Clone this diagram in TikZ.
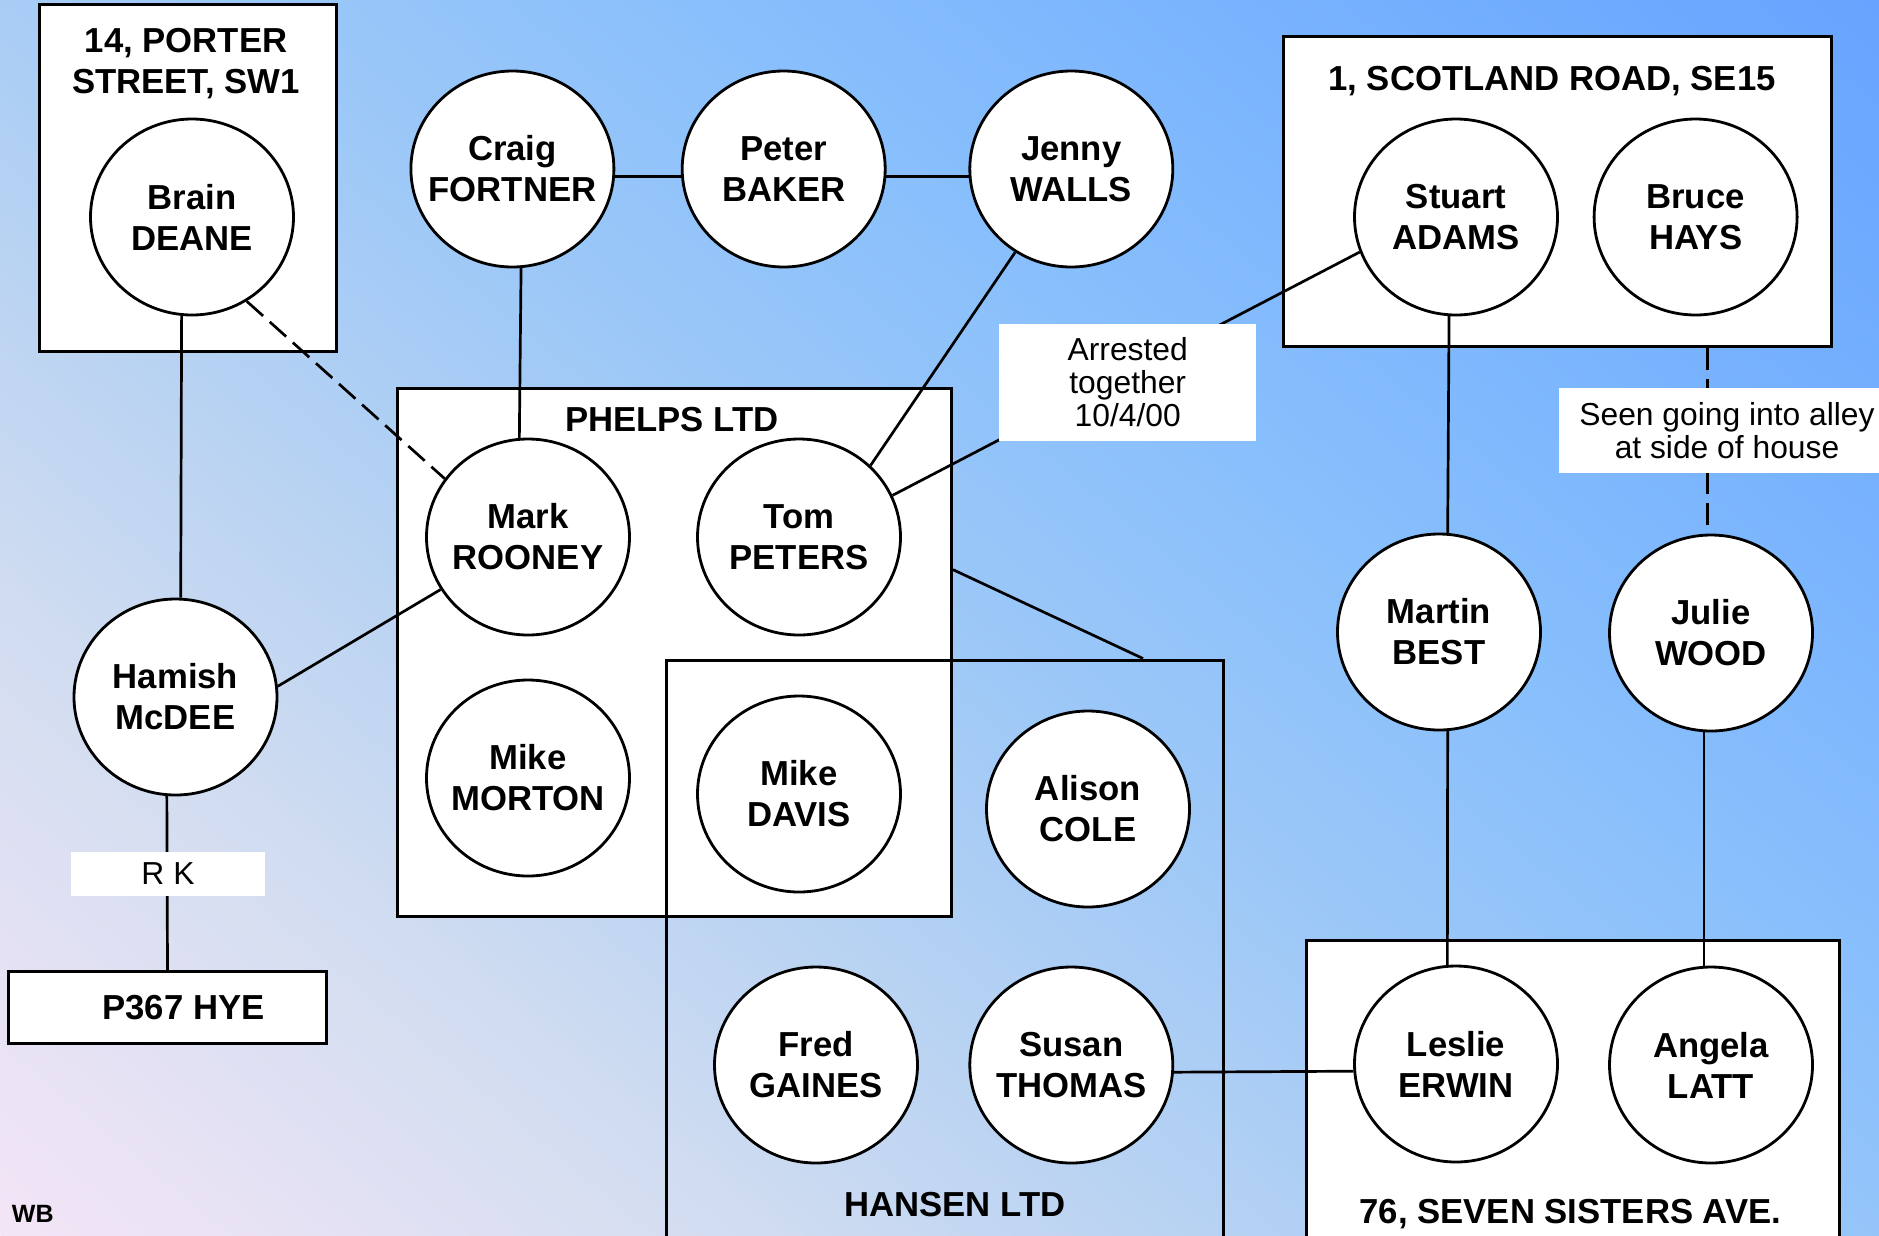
\documentclass[tikz,border=0pt]{standalone}
\usepackage{fontspec}
\setmainfont{Liberation Sans}
\usetikzlibrary{calc,shapes.geometric}

% background wash, pink in the lower left to blue in the upper right
\definecolor{bgA}{HTML}{F3E5F6}
\definecolor{bgB}{HTML}{D5DEF1}
\definecolor{bgC}{HTML}{B9D3F2}
\definecolor{bgD}{HTML}{9DC8F7}
\definecolor{bgE}{HTML}{88BFFC}
\definecolor{bgF}{HTML}{66A4FF}
\pgfdeclarehorizontalshading{skywash}{100bp}{color(0bp)=(bgA); color(25bp)=(bgA); color(35bp)=(bgB); color(42.5bp)=(bgC); color(50bp)=(bgD); color(57.5bp)=(bgE); color(75bp)=(bgF); color(100bp)=(bgF)}

\pgfdeclarelayer{washlayer}
\pgfdeclarelayer{framelayer}
\pgfdeclarelayer{tielayer}
\pgfsetlayers{washlayer,framelayer,tielayer,main}

% two-line name set in a zero-width column so the ellipse keeps its size
\newcommand\pname[2]{\makebox[0pt]{#1}\\\makebox[0pt]{#2}}

\tikzset{
  person/.style={ellipse, draw, line width=2.8pt, fill=white,
    minimum width=203pt, minimum height=196pt, inner sep=0pt,
    text width=0pt, align=center,
    font=\fontsize{34.7}{41}\selectfont\bfseries},
  framebox/.style={draw, line width=3pt, fill=white, inner sep=0pt},
  openbox/.style={draw, line width=3pt, inner sep=0pt},
  heading/.style={inner sep=0pt, font=\fontsize{34.7}{41}\selectfont\bfseries},
  notebox/.style={fill=white, inner sep=0pt, align=center,
    font=\fontsize{31.8}{33}\selectfont},
  tie/.style={line width=2.7pt},
  dashtie/.style={tie, dash pattern=on 22pt off 9pt},
}

\begin{document}
\begin{tikzpicture}[x=1pt,y=-1pt]
\useasboundingbox (0,0) rectangle (1879,1235);

% background
\begin{pgfonlayer}{washlayer}
  \begin{scope}
    \clip (0,0) rectangle (1879,1235);
    \shade[shading=skywash, transform canvas={rotate around={50:(939.5,617.5)}}]
      (-137.5,-502.5) rectangle (2016.5,1737.5);
  \end{scope}
\end{pgfonlayer}

% houses, companies and the car
\begin{pgfonlayer}{framelayer}
  \node[framebox, minimum width=297pt, minimum height=347pt] (porter) at (187.5,177.5) {};
  \node[framebox, minimum width=548pt, minimum height=310pt] (scotland) at (1557,191) {};
  \node[framebox, minimum width=554pt, minimum height=528pt] (phelps) at (674.5,652.5) {};
  \node[openbox, minimum width=557.3pt, minimum height=600pt] (hansen) at (944.65,960) {};
  \node[framebox, minimum width=532.4pt, minimum height=319.3pt] (sisters) at (1572.8,1100.35) {};
  \node[framebox, minimum width=318.4pt, minimum height=71.6pt,
        font=\fontsize{34.7}{41}\selectfont\bfseries] (plate) at (167.5,1007.5) {\hspace*{32pt}P367 HYE};

  \node[heading, align=center] (portername) at (186,63.5) {14, PORTER\\STREET, SW1};
  \node[heading, anchor=base] (scotlandname) at (1552,90.5) {1, SCOTLAND ROAD, SE15};
  \node[heading, anchor=base] (phelpsname) at (671.8,431.8) {PHELPS LTD};
  \node[heading, anchor=base] (hansenname) at (955,1216) {HANSEN LTD};
  \node[heading, anchor=base] (sistersname) at (1570.5,1223.5) {76, SEVEN SISTERS AVE.};
\end{pgfonlayer}

% people
\node[person] (brain)  at (192,217)     {\pname{Brain}{DEANE}};
\node[person] (craig)  at (512.4,169)   {\pname{Craig}{FORTNER}};
\node[person] (peter)  at (783.7,169)   {\pname{Peter}{BAKER}};
\node[person] (jenny)  at (1071.3,169)  {\pname{Jenny}{WALLS}};
\node[person] (stuart) at (1456,217)    {\pname{Stuart}{ADAMS}};
\node[person] (bruce)  at (1695.6,217)  {\pname{Bruce}{HAYS}};
\node[person] (mark)   at (528,537)     {\pname{Mark}{ROONEY}};
\node[person] (tom)    at (799,537)     {\pname{Tom}{PETERS}};
\node[person] (morton) at (528,778)     {\pname{Mike}{MORTON}};
\node[person] (davis)  at (799,794)     {\pname{Mike}{DAVIS}};
\node[person] (alison) at (1088,809)    {\pname{Alison}{COLE}};
\node[person] (hamish) at (175.5,697)   {\pname{Hamish}{McDEE}};
\node[person] (martin) at (1439,632)    {\pname{Martin}{BEST}};
\node[person] (julie)  at (1711,633)    {\pname{Julie}{WOOD}};
\node[person] (fred)   at (816,1065)    {\pname{Fred}{GAINES}};
\node[person] (susan)  at (1071.3,1065) {\pname{Susan}{THOMAS}};
\node[person] (leslie) at (1456,1064)   {\pname{Leslie}{ERWIN}};
\node[person] (angela) at (1711,1065)   {\pname{Angela}{LATT}};

% connections
\begin{pgfonlayer}{tielayer}
  \draw[tie] (brain.-96) -- (hamish.87);
  \draw[dashtie] (brain.-57) -- (mark.145);
  \draw[tie] (craig.-85.5) -- (mark.95);
  \draw[tie] (craig.-4.5) -- (peter.184.5);
  \draw[tie] (peter.-4.5) -- (jenny.184.5);
  \draw[tie] (jenny.-124) -- (tom.45);
  \draw[tie] (tom.24) -- (stuart.200);
  \draw[tie] (mark.211.5) -- (hamish.6);
  \draw[tie] (hamish.-95) -- (plate.north);
  \draw[tie] (stuart.-94.6) -- (martin.85);
  \draw[tie] (martin.-85) -- (leslie.95);
  \draw[tie] (julie.-94) -- (angela.94);
  \draw[dashtie] (scotland.south -| julie.92) -- (julie.92);
  \draw[tie] (susan.-4) -- (leslie.184);
  \draw[tie] ($(phelps.north east)!0.344!(phelps.south east)$) -- ($(hansen.north west)!0.854!(hansen.north east)$);
\end{pgfonlayer}

% notes on the connections
\node[notebox, minimum width=256.7pt, minimum height=116.7pt] (arrested) at (1127.7,382.4) {Arrested\\together\\10/4/00};
\node[notebox, minimum width=336pt, minimum height=84.4pt] (seen) at (1727,430.5) {Seen going into alley\\at side of house};
\node[notebox, minimum width=194pt, minimum height=44pt] (rk) at (168,874) {R K};

% author initials
\node[inner sep=0pt, anchor=base west, font=\fontsize{25}{26}\selectfont\bfseries] (initials) at (11.7,1222.7) {WB};
\end{tikzpicture}
\end{document}
